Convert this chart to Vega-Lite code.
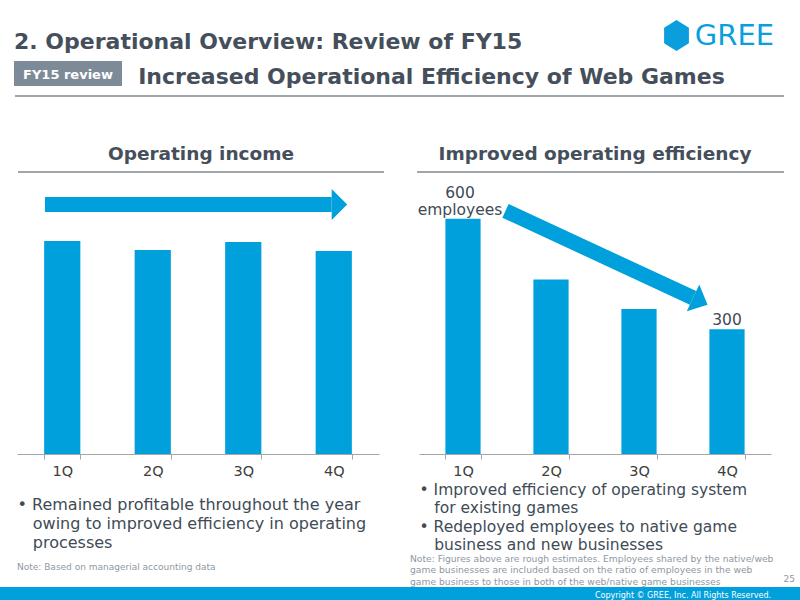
{
  "$schema": "https://vega.github.io/schema/vega-lite/v6.json",
  "padding": 0,
  "background": "white",
  "config": {"font": "DejaVu Sans", "view": {"stroke": null}},
  "datasets": {
    "income": [{"q": "1Q", "v": 213}, {"q": "2Q", "v": 204}, {"q": "3Q", "v": 212}, {"q": "4Q", "v": 203}],
    "staff": [{"q": "1Q", "n": 600, "label": "600\nemployees"}, {"q": "2Q", "n": 445, "label": ""}, {"q": "3Q", "n": 370, "label": ""}, {"q": "4Q", "n": 318, "label": "300"}],
    "arrowL": [{"x0": 0.309, "x1": 3.477, "y0": 249.5, "y1": 249.5}],
    "arrowR": [{"x0": 0.983, "x1": 3.114, "y0": 620, "y1": 398}]
  },
  "spacing": 0,
  "vconcat": [
    {
      "spacing": 0,
      "hconcat": [
        {"width": 14, "height": 61, "data": {"values": []}, "mark": "point"},
        {"width": 650, "height": 61, "data": {"values": []}, "mark": "point",
          "title": {"text": "2. Operational Overview: Review of FY15", "anchor": "start", "fontSize": 22, "fontWeight": "bold", "color": "#454f5b", "offset": -53.7}},
        {
          "spacing": 0,
          "vconcat": [
            {"width": 112, "height": 20, "data": {"values": []}, "mark": "point"},
            {
              "spacing": 0,
              "hconcat": [
                {"width": 25, "height": 31, "data": {"values": [{"a": 1}]}, "mark": {"type": "point", "shape": "M0,-1L0.8,-0.5L0.8,0.5L0,1L-0.8,0.5L-0.8,-0.5Z", "size": 961, "filled": true, "opacity": 1, "color": "#0a9fdc", "strokeWidth": 0}, "encoding": {}},
                {"width": 4, "height": 31, "data": {"values": []}, "mark": "point"},
                {"width": 83, "height": 31, "data": {"values": [{"t": "GREE"}]}, "mark": {"type": "text", "fontSize": 29, "color": "#0a9fdc", "baseline": "alphabetic", "dy": 9.5}, "encoding": {"text": {"field": "t"}}}
              ]
            }
          ]
        }
      ]
    },
    {
      "spacing": 0,
      "hconcat": [
        {"width": 14, "height": 34, "data": {"values": []}, "mark": "point"},
        {
          "spacing": 0,
          "vconcat": [
            {
              "width": 108, "height": 25,
              "view": {"fill": "#7d8a98", "stroke": null},
              "data": {"values": [{"t": "FY15 review"}]},
              "mark": {"type": "text", "fontSize": 13, "fontWeight": "bold", "color": "white", "dy": 1},
              "encoding": {"text": {"field": "t"}}
            },
            {"width": 108, "height": 9, "data": {"values": []}, "mark": "point"}
          ]
        },
        {"width": 13, "height": 34, "data": {"values": []}, "mark": "point"},
        {
          "width": 593, "height": 34,
          "data": {"values": [{"t": "Increased Operational Efficiency of Web Games"}]},
          "mark": {"type": "text", "fontSize": 22, "fontWeight": "bold", "color": "#454f5b", "baseline": "alphabetic", "dy": 6},
          "encoding": {"text": {"field": "t"}}
        }
      ]
    },
    {
      "spacing": 0,
      "hconcat": [
        {"width": 14, "height": 1, "data": {"values": []}, "mark": "point"},
        {"width": 769, "height": 1, "data": {"values": [{"a": 1}]}, "mark": {"type": "rule", "color": "#7f8891", "strokeWidth": 1.5}, "encoding": {"y": {"datum": 1, "type": "quantitative", "scale": {"domain": [0, 1]}, "axis": null}}}
      ]
    },
    {
      "spacing": 0,
      "hconcat": [
        {"width": 17, "height": 75, "data": {"values": []}, "mark": "point"},
        {"width": 366, "height": 75, "data": {"values": [{"a": 1}]},
          "title": {"text": "Operating income", "fontSize": 18.5, "fontWeight": "bold", "color": "#454f5b", "offset": -66.3},
          "mark": {"type": "rule", "color": "#7f8891", "strokeWidth": 1.5},
          "encoding": {"y": {"datum": 0, "type": "quantitative", "scale": {"domain": [0, 1]}, "axis": null}}},
        {"width": 30.5, "height": 75, "data": {"values": []}, "mark": "point"},
        {"width": 367, "height": 75, "data": {"values": [{"a": 1}]},
          "title": {"text": "Improved operating efficiency", "fontSize": 18.5, "fontWeight": "bold", "color": "#454f5b", "offset": -66.3, "dx": -5.5},
          "mark": {"type": "rule", "color": "#7f8891", "strokeWidth": 1.5},
          "encoding": {"y": {"datum": 0, "type": "quantitative", "scale": {"domain": [0, 1]}, "axis": null}}}
      ]
    },
    {
      "spacing": 0,
      "hconcat": [
        {"width": 17, "height": 281, "data": {"values": []}, "mark": "point"},
        {
          "width": 362, "height": 281,
          "layer": [
            {
              "data": {"name": "income"},
              "mark": {"type": "bar", "color": "#00a0dc"},
              "encoding": {
                "x": {"field": "q", "type": "nominal", "scale": {"paddingInner": 0.6, "paddingOuter": 0.3},
                  "axis": {"title": ["•\u00a0Remained profitable throughout the year", "\u200b\u00a0\u00a0\u00a0owing to improved efficiency in operating", "\u200b\u00a0\u00a0\u00a0processes"],
                    "titleAnchor": "start", "titleAlign": "left", "titleFontSize": 16, "titleFontWeight": "normal", "titleColor": "#404b56", "titleLineHeight": 19, "titlePadding": 19,
                    "labelAngle": 0, "labelFontSize": 14.5, "labelColor": "#404040", "labelPadding": 5, "tickSize": 5, "tickBand": "extent", "domainColor": "#a6a6a6", "tickColor": "#a6a6a6", "grid": false}},
                "y": {"field": "v", "type": "quantitative", "scale": {"domain": [0, 281], "nice": false}, "axis": null}
              }
            },
            {
              "data": {"name": "arrowL"},
              "layer": [
                {
                  "mark": {"type": "rule", "color": "#00a0dc", "strokeWidth": 15, "strokeCap": "butt"},
                  "encoding": {
                    "x": {"field": "x0", "type": "quantitative", "scale": {"domain": [0, 4], "nice": false, "zero": false}, "axis": null},
                    "x2": {"field": "x1"},
                    "y": {"field": "y0", "type": "quantitative", "scale": {"domain": [0, 281], "nice": false}, "axis": null},
                    "y2": {"field": "y1"}
                  }
                },
                {
                  "mark": {"type": "point", "shape": "M0,-1L1,0L0,1Z", "size": 961, "filled": true, "opacity": 1, "color": "#00a0dc", "strokeWidth": 0, "angle": 0},
                  "encoding": {
                    "x": {"field": "x1", "type": "quantitative", "scale": {"domain": [0, 4], "nice": false, "zero": false}, "axis": null},
                    "y": {"field": "y1", "type": "quantitative", "scale": {"domain": [0, 281], "nice": false}, "axis": null}
                  }
                }
              ]
            }
          ],
          "resolve": {"scale": {"x": "independent"}}
        },
        {"width": 38, "height": 281, "data": {"values": []}, "mark": "point"},
        {
          "width": 352, "height": 281,
          "layer": [
            {
              "data": {"name": "staff"},
              "layer": [
                {
                  "mark": {"type": "bar", "color": "#00a0dc"},
                  "encoding": {
                    "x": {"field": "q", "type": "nominal", "scale": {"paddingInner": 0.6, "paddingOuter": 0.3},
                      "axis": {"title": ["•\u00a0Improved efficiency of operating system", "\u200b\u00a0\u00a0\u00a0for existing games", "•\u00a0Redeployed employees to native game", "\u200b\u00a0\u00a0\u00a0business and new businesses"],
                        "titleAnchor": "start", "titleAlign": "left", "titleFontSize": 15.5, "titleFontWeight": "normal", "titleColor": "#404b56", "titleLineHeight": 18.3, "titlePadding": 5,
                        "labelAngle": 0, "labelFontSize": 14.5, "labelColor": "#404040", "labelPadding": 5, "tickSize": 5, "tickBand": "extent", "domainColor": "#a6a6a6", "tickColor": "#a6a6a6", "grid": false}},
                    "y": {"field": "n", "type": "quantitative", "scale": {"domain": [0, 716.5], "nice": false}, "axis": null}
                  }
                },
                {
                  "transform": [{"filter": "datum.q == '1Q'"}],
                  "mark": {"type": "text", "lineBreak": "\n", "baseline": "bottom", "dy": -18, "dx": -3, "fontSize": 15.5, "lineHeight": 17, "color": "#404b56"},
                  "encoding": {
                    "x": {"field": "q", "type": "nominal"},
                    "y": {"field": "n", "type": "quantitative", "scale": {"domain": [0, 716.5], "nice": false}, "axis": null},
                    "text": {"field": "label"}
                  }
                },
                {
                  "transform": [{"filter": "datum.q == '4Q'"}],
                  "mark": {"type": "text", "baseline": "bottom", "dy": -1, "fontSize": 15.5, "color": "#404b56"},
                  "encoding": {
                    "x": {"field": "q", "type": "nominal"},
                    "y": {"field": "n", "type": "quantitative", "scale": {"domain": [0, 716.5], "nice": false}, "axis": null},
                    "text": {"field": "label"}
                  }
                }
              ]
            },
            {
              "data": {"name": "arrowR"},
              "layer": [
                {
                  "mark": {"type": "rule", "color": "#00a0dc", "strokeWidth": 15, "strokeCap": "butt"},
                  "encoding": {
                    "x": {"field": "x0", "type": "quantitative", "scale": {"domain": [0, 4], "nice": false, "zero": false}, "axis": null},
                    "x2": {"field": "x1"},
                    "y": {"field": "y0", "type": "quantitative", "scale": {"domain": [0, 716.5], "nice": false}, "axis": null},
                    "y2": {"field": "y1"}
                  }
                },
                {
                  "mark": {"type": "point", "shape": "M0,-1L1.085,0L0,1Z", "size": 870, "filled": true, "opacity": 1, "color": "#00a0dc", "strokeWidth": 0, "angle": 24.9},
                  "encoding": {
                    "x": {"field": "x1", "type": "quantitative", "scale": {"domain": [0, 4], "nice": false, "zero": false}, "axis": null},
                    "y": {"field": "y1", "type": "quantitative", "scale": {"domain": [0, 716.5], "nice": false}, "axis": null}
                  }
                }
              ]
            }
          ],
          "resolve": {"scale": {"x": "independent"}}
        }
      ]
    },
    {
      "spacing": 0,
      "hconcat": [
        {"width": 17, "height": 32, "data": {"values": []}, "mark": "point"},
        {"width": 362, "height": 32, "data": {"values": []}, "mark": "point",
          "title": {"text": "Note: Based on managerial accounting data", "anchor": "start", "fontSize": 9, "fontWeight": "normal", "color": "#8e98a3", "offset": -19.2}},
        {"width": 31, "height": 32, "data": {"values": []}, "mark": "point"},
        {"width": 373, "height": 32, "data": {"values": []}, "mark": "point",
          "title": {"text": ["Note: Figures above are rough estimates. Employees shared by the native/web", "game businesses are included based on the ratio of  employees in the web", "game business  to those in both of the web/native game businesses"], "anchor": "start", "fontSize": 9.2, "fontWeight": "normal", "color": "#8e98a3", "lineHeight": 11.5, "offset": -33.7}},
        {"width": 9, "height": 32, "data": {"values": []}, "mark": "point",
          "title": {"text": "25", "anchor": "end", "fontSize": 9, "fontWeight": "normal", "color": "#8e98a3", "offset": -31.2}}
      ]
    },
    {
      "spacing": 0,
      "hconcat": [
        {"width": 771, "height": 14, "view": {"fill": "#00a0dc", "stroke": null}, "data": {"values": []}, "mark": "point",
          "title": {"text": "Copyright © GREE, Inc. All Rights Reserved.", "anchor": "end", "fontSize": 8, "fontWeight": "normal", "color": "white", "offset": -12.9}},
        {"width": 29, "height": 14, "view": {"fill": "#00a0dc", "stroke": null}, "data": {"values": []}, "mark": "point"}
      ]
    }
  ]
}
